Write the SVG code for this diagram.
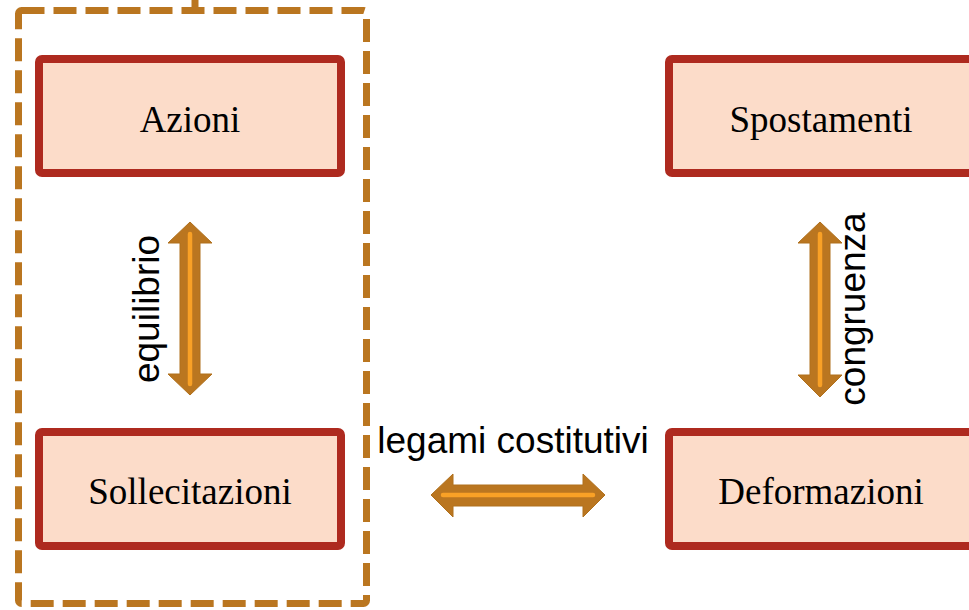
<svg xmlns="http://www.w3.org/2000/svg" width="969" height="610" viewBox="0 0 969 610">
<style>
.box{fill:#FCDCC9;stroke:#AE2A1F;stroke-width:8;}
.lbl{font-family:"Liberation Serif","Times New Roman",serif;font-size:37px;fill:#000;text-anchor:middle;}
.cl{font-family:"Liberation Sans",Arial,sans-serif;font-size:37px;fill:#000;text-anchor:middle;}
.arr{fill:#BA7620;stroke:#B0701C;stroke-width:1;}
.core{stroke:#F9A126;stroke-width:4.5;stroke-linecap:round;fill:none;}
.dash{fill:none;stroke:#BA7620;stroke-width:7;stroke-dasharray:23 9;}
</style>
<rect width="969" height="610" fill="#fff"/>
<g id="group">
<rect class="dash" x="18.5" y="10.5" width="348" height="593" rx="3"/>
<line x1="195" y1="0" x2="195" y2="10" stroke="#BA7620" stroke-width="7"/>
</g>
<g id="azioni">
<rect class="box" x="39" y="59" width="302" height="114" rx="3"/>
<text class="lbl" x="190" y="132">Azioni</text>
</g>
<g id="sollecitazioni">
<rect class="box" x="39" y="432" width="302" height="114" rx="3"/>
<text class="lbl" x="190" y="504">Sollecitazioni</text>
</g>
<g id="spostamenti">
<rect class="box" x="669" y="59" width="304" height="114" rx="3"/>
<text class="lbl" x="821" y="132">Spostamenti</text>
</g>
<g id="deformazioni">
<rect class="box" x="669" y="432" width="304" height="114" rx="3"/>
<text class="lbl" x="821" y="504">Deformazioni</text>
</g>
<g id="connectors">
<g id="equilibrio">
<polygon class="arr" points="190,222 212,243 200,243 200,374 212,374 190,395 168,374 180,374 180,243 168,243"/>
<line class="core" x1="190" y1="234" x2="190" y2="384"/>
<text class="cl" transform="translate(159,309) rotate(-90)">equilibrio</text>
</g>
<g id="congruenza">
<polygon class="arr" points="820,222 842,243 830,243 830,375 842,375 820,397 798,375 810,375 810,243 798,243"/>
<line class="core" x1="820" y1="234" x2="820" y2="385"/>
<text class="cl" transform="translate(865,309) rotate(-90)">congruenza</text>
</g>
<g id="legami">
<polygon class="arr" points="431,495 453,474 453,485 583,485 583,474 605,495 583,517 583,506 453,506 453,517"/>
<line class="core" x1="443" y1="495" x2="593" y2="495"/>
<text class="cl" x="513" y="453">legami costitutivi</text>
</g>
</g>
</svg>
